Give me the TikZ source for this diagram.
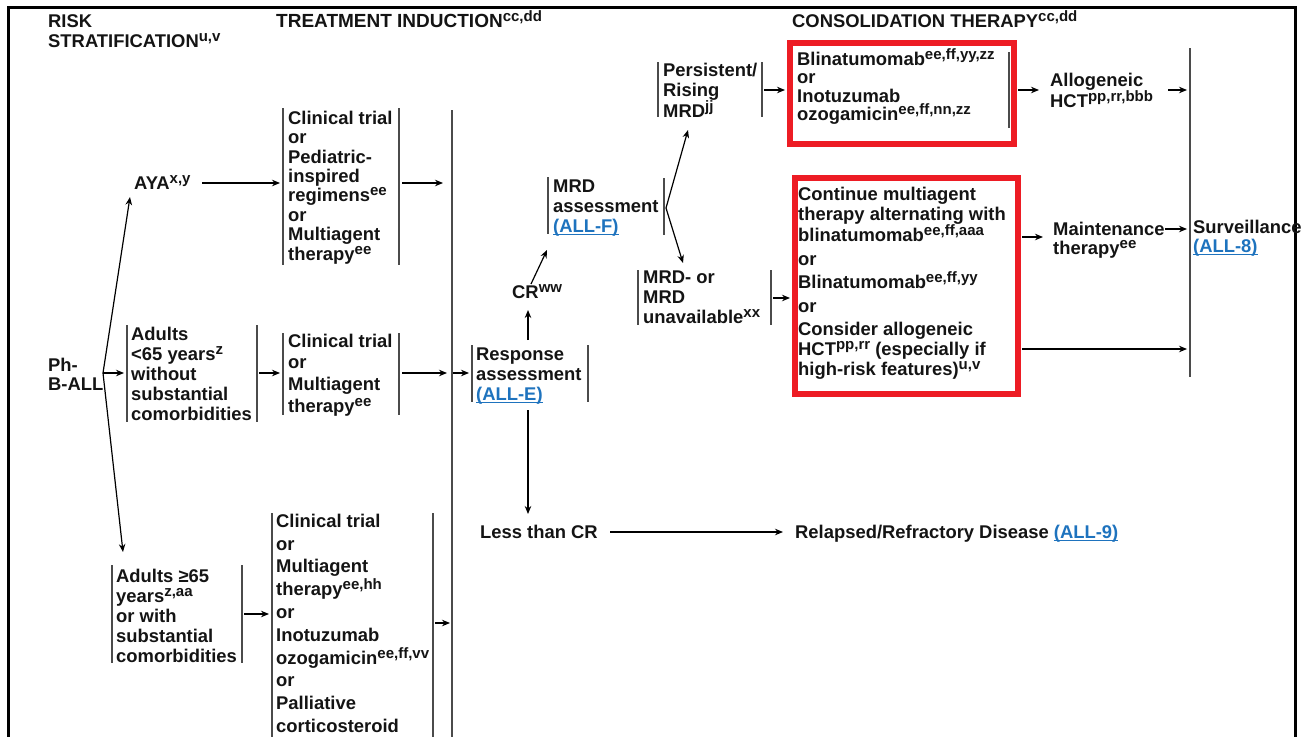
\documentclass[tikz,border=0pt]{standalone}
\usepackage{fontspec}
\setmainfont{Liberation Sans}
\usetikzlibrary{arrows.meta}
\definecolor{redc}{RGB}{237,28,36}
\definecolor{barc}{RGB}{75,75,75}
\definecolor{linkc}{RGB}{30,115,190}
\definecolor{txtc}{RGB}{20,20,20}
\newcommand\ssp[1]{\raisebox{6pt}{\fontsize{15}{15}\selectfont #1}}
\newcommand\lnk[1]{\textcolor{linkc}{\setbox0\hbox{#1}\rlap{\rule[-2.6pt]{\wd0}{1.3pt}}\box0}}
\newcommand\fs{\rule{0pt}{18pt}}
\tikzset{
  txt/.style={anchor=north west, inner sep=0pt, align=left, text=txtc,
    font=\fontsize{18.4}{#1}\selectfont\bfseries},
  txt/.default=20,
  bar/.style={draw=barc, line width=1.5pt},
  arr/.style={draw=black, line width=1.2pt, -{Stealth[length=8pt,width=6.5pt]}},
  redbox/.style={draw=redc, line width=5.5pt},
  frame/.style={draw=black, line width=3pt}
}
\begin{document}
\begin{tikzpicture}[x=1pt,y=-1pt]
\useasboundingbox (0,0) rectangle (1314,736);
\fill[white] (0,0) rectangle (1314,736);
\draw[frame] (8,745) -- (8,7) -- (1295,7) -- (1295,745);

% headers
\node[txt] (hrisk) at (48,9) {\fs RISK\\STRATIFICATION\ssp{u,v}};
\node[txt, font=\fontsize{19}{20}\selectfont\bfseries] (htreat) at (276,9) {\fs TREATMENT INDUCTION\ssp{cc,dd}};
\node[txt] (hcons) at (792,9) {\fs CONSOLIDATION THERAPY\ssp{cc,dd}};

% text nodes
\node[txt] (aya) at (134,171) {\fs AYA\ssp{x,y}};
\node[txt=19] (ph) at (48,353) {\fs Ph-\\B-ALL};
\node[txt] (adlt) at (131,322) {\fs Adults\\<65 years\ssp{z}\\without\\substantial\\comorbidities};
\node[txt] (adge) at (116,564) {\fs Adults ≥65\\years\ssp{z,aa}\\or with\\substantial\\comorbidities};
\node[txt=19.4] (ct1) at (288,106) {\fs Clinical trial\\or\\Pediatric-\\inspired\\regimens\ssp{ee}\\or\\Multiagent\\therapy\ssp{ee}};
\node[txt=21.7] (ct2) at (288,329) {\fs Clinical trial\\or\\Multiagent\\therapy\ssp{ee}};
\node[txt=22.8] (ct3) at (276,509) {\fs Clinical trial\\or\\Multiagent\\therapy\ssp{ee,hh}\\or\\Inotuzumab\\ozogamicin\ssp{ee,ff,vv}\\or\\Palliative\\corticosteroid};
\node[txt] (resp) at (476,342) {\fs Response\\assessment\\\lnk{(ALL-E)}};
\node[txt] (cr) at (512,280) {\fs CR\ssp{ww}};
\node[txt] (mrd) at (553,174) {\fs MRD\\assessment\\\lnk{(ALL-F)}};
\node[txt] (pers) at (663,58) {\fs Persistent/\\Rising\\MRD\ssp{jj}};
\node[txt] (mneg) at (643,265) {\fs MRD- or\\MRD\\unavailable\ssp{xx}};
\node[txt=18.5] (rb1t) at (797,47) {\fs Blinatumomab\ssp{ee,ff,yy,zz}\\or\\Inotuzumab\\ozogamicin\ssp{ee,ff,nn,zz}};
\node[txt] (rb2t) at (798,182) {\fs Continue multiagent\\therapy alternating with\\blinatumomab\ssp{ee,ff,aaa}\\[3.5pt]or\\[3.5pt]Blinatumomab\ssp{ee,ff,yy}\\[3.5pt]or\\[3.5pt]Consider allogeneic\\HCT\ssp{pp,rr} (especially if\\high-risk features)\ssp{u,v}};
\node[txt=19] (allo) at (1050,68) {\fs Allogeneic\\HCT\ssp{pp,rr,bbb}};
\node[txt=19] (maint) at (1053,217) {\fs Maintenance\\therapy\ssp{ee}};
\node[txt=19] (surv) at (1193,215) {\fs Surveillance\\\lnk{(ALL-8)}};
\node[txt] (less) at (480,520) {\fs Less than CR};
\node[txt] (relap) at (795,520) {\fs Relapsed/Refractory Disease \lnk{(ALL-9)}};

% red boxes
\draw[redbox] (790,43) rectangle (1014,144);
\draw[redbox] (795,178) rectangle (1018,394);

% bars
\draw[bar] (283,108) -- (283,265);  \draw[bar] (399,108) -- (399,265);
\draw[bar] (452,110) -- (452,745);
\draw[bar] (127,325) -- (127,422);  \draw[bar] (257,325) -- (257,422);
\draw[bar] (283,333) -- (283,415);  \draw[bar] (399,333) -- (399,415);
\draw[bar] (112,565) -- (112,663);  \draw[bar] (242,565) -- (242,663);
\draw[bar] (272,513) -- (272,745);  \draw[bar] (433,513) -- (433,745);
\draw[bar] (472,345) -- (472,402);  \draw[bar] (588,345) -- (588,402);
\draw[bar] (548,177) -- (548,234);  \draw[bar] (664,178) -- (664,235);
\draw[bar] (658,62) -- (658,117);   \draw[bar] (762,62) -- (762,117);
\draw[bar] (638,270) -- (638,325);  \draw[bar] (771,270) -- (771,325);
\draw[bar] (1009,52) -- (1009,128);
\draw[bar] (1190,48) -- (1190,377);

% connector coordinates
\coordinate (fork) at (103,373);
\coordinate (ayaTip) at (130,197);
\coordinate (adgeTip) at (123,552);
\coordinate (adltIn) at (124,373);
\coordinate (ayaOut) at (202,183);
\coordinate (ct1In) at (280,183);
\coordinate (ct1Out) at (402,183);
\coordinate (bigIn1) at (443,183);
\coordinate (adltOut) at (259,373);
\coordinate (ct2In) at (280,373);
\coordinate (ct2Out) at (402,373);
\coordinate (bigIn2) at (447,373);
\coordinate (adgeOut) at (244,614);
\coordinate (ct3In) at (269,614);
\coordinate (ct3Out) at (435,623);
\coordinate (bigIn3) at (450,623);
\coordinate (bigOut) at (453,373);
\coordinate (respIn) at (469,373);
\coordinate (respTop) at (528,340);
\coordinate (crBot) at (528,310);
\coordinate (respBot) at (528,410);
\coordinate (lessTop) at (528,514);
\coordinate (crOut) at (531,284);
\coordinate (mrdIn) at (547,250);
\coordinate (mfork) at (666,208);
\coordinate (persIn) at (688,130);
\coordinate (mnegIn) at (683,263);
\coordinate (persOut) at (764,90);
\coordinate (rb1In) at (785,90);
\coordinate (mnegOut) at (773,298);
\coordinate (rb2In) at (790,298);
\coordinate (rb1Out) at (1018,90);
\coordinate (alloIn) at (1039,90);
\coordinate (alloOut) at (1168,90);
\coordinate (survIn1) at (1187,90);
\coordinate (rb2Out1) at (1022,237);
\coordinate (maintIn) at (1043,237);
\coordinate (maintOut) at (1165,229);
\coordinate (survIn2) at (1187,229);
\coordinate (rb2Out2) at (1022,349);
\coordinate (survIn3) at (1187,349);
\coordinate (lessOut) at (610,532);
\coordinate (relapIn) at (783,532);

% arrows
\draw[arr] (fork) -- (ayaTip);
\draw[arr] (fork) -- (adgeTip);
\draw[arr] (fork) -- (adltIn);
\draw[arr] (ayaOut) -- (ct1In);
\draw[arr] (ct1Out) -- (bigIn1);
\draw[arr] (adltOut) -- (ct2In);
\draw[arr] (ct2Out) -- (bigIn2);
\draw[arr] (adgeOut) -- (ct3In);
\draw[arr] (ct3Out) -- (bigIn3);
\draw[arr] (bigOut) -- (respIn);
\draw[arr] (respTop) -- (crBot);
\draw[arr] (respBot) -- (lessTop);
\draw[arr] (crOut) -- (mrdIn);
\draw[arr] (mfork) -- (persIn);
\draw[arr] (mfork) -- (mnegIn);
\draw[arr] (persOut) -- (rb1In);
\draw[arr] (mnegOut) -- (rb2In);
\draw[arr] (rb1Out) -- (alloIn);
\draw[arr] (alloOut) -- (survIn1);
\draw[arr] (rb2Out1) -- (maintIn);
\draw[arr] (maintOut) -- (survIn2);
\draw[arr] (rb2Out2) -- (survIn3);
\draw[arr] (lessOut) -- (relapIn);
\end{tikzpicture}
\end{document}
